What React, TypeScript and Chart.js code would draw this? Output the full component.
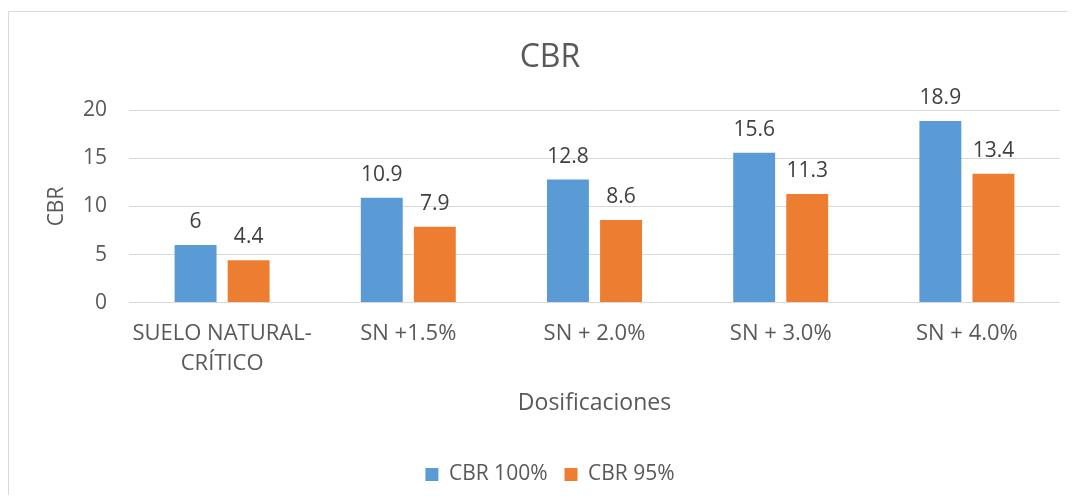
import React, { useEffect, useRef } from "react";
import { Chart, registerables } from "chart.js";

Chart.register(...registerables);

const categories: (string | string[])[] = [
  ["SUELO NATURAL-", "CRÍTICO"],
  "SN +1.5%",
  "SN + 2.0%",
  "SN + 3.0%",
  "SN + 4.0%",
];
const cbr100: number[] = [6, 10.9, 12.8, 15.6, 18.9];
const cbr95: number[] = [4.4, 7.9, 8.6, 11.3, 13.4];
const seriesNames: string[] = ["CBR 100%", "CBR 95%"];
const yTicks: number[] = [0, 5, 10, 15, 20];

const FONT = "'Open Sans', 'DejaVu Sans', sans-serif";
const TEXT = "#595959";

const dataLabels = {
  id: "dataLabels",
  afterDatasetsDraw(chart: any) {
    const ctx = chart.ctx;
    ctx.save();
    ctx.font = `21px ${FONT}`;
    ctx.fillStyle = "#404040";
    ctx.textAlign = "center";
    ctx.textBaseline = "middle";
    chart.data.datasets.forEach((ds: any, i: number) => {
      const meta = chart.getDatasetMeta(i);
      meta.data.forEach((bar: any, j: number) => {
        ctx.fillText(String(ds.data[j]), bar.x, bar.y - 23);
      });
    });
    ctx.restore();
  },
};

const frame = {
  id: "frame",
  beforeDraw(chart: any) {
    const ctx = chart.ctx;
    ctx.save();
    ctx.strokeStyle = "#d9d9d9";
    ctx.lineWidth = 1;
    ctx.beginPath();
    ctx.moveTo(0.5, chart.height);
    ctx.lineTo(0.5, 3.5);
    ctx.lineTo(chart.width, 3.5);
    ctx.stroke();
    ctx.restore();
  },
};

export default function App() {
  const ref = useRef<HTMLCanvasElement>(null);
  useEffect(() => {
    if (!ref.current) return;
    const chart = new Chart(ref.current, {
      type: "bar",
      data: {
        labels: categories,
        datasets: [
          {
            label: seriesNames[0],
            data: cbr100,
            backgroundColor: "#5B9BD5",
            categoryPercentage: 0.57,
            barPercentage: 0.79,
          },
          {
            label: seriesNames[1],
            data: cbr95,
            backgroundColor: "#ED7D31",
            categoryPercentage: 0.57,
            barPercentage: 0.79,
          },
        ],
      },
      options: {
        responsive: false,
        animation: false,
        layout: { padding: { left: 32, right: 15, top: 0, bottom: 0 } },
        plugins: {
          title: {
            display: true,
            text: "CBR",
            color: TEXT,
            font: { family: FONT, size: 32, weight: "normal" },
            padding: { top: 31, bottom: 33 },
          },
          legend: {
            display: true,
            position: "bottom",
            labels: {
              color: TEXT,
              font: { family: FONT, size: 21 },
              boxWidth: 13,
              boxHeight: 13,
              padding: 17,
            },
          },
          tooltip: { enabled: false },
        },
        scales: {
          x: {
            grid: { display: false },
            border: { display: false },
            ticks: {
              color: TEXT,
              font: { family: FONT, size: 22, lineHeight: 1.36 },
              padding: 8,
              maxRotation: 0,
              autoSkip: false,
            },
            title: {
              display: true,
              text: "Dosificaciones",
              color: TEXT,
              font: { family: FONT, size: 23 },
              padding: { top: 3, bottom: 30 },
            },
          },
          y: {
            min: 0,
            max: 20,
            afterBuildTicks: (scale: any) => {
              scale.ticks = yTicks.map((v) => ({ value: v }));
            },
            afterFit: (scale: any) => {
              scale.width = 89;
            },
            grid: { color: "#d9d9d9", lineWidth: 1, drawTicks: false },
            border: { display: false },
            ticks: {
              color: TEXT,
              font: { family: FONT, size: 21 },
              padding: 22,
            },
            title: {
              display: true,
              text: "CBR",
              color: TEXT,
              font: { family: FONT, size: 21 },
              padding: { top: 4, bottom: 0 },
            },
          },
        },
      },
      plugins: [frame, dataLabels],
    });
    return () => chart.destroy();
  }, []);

  return (
    <div style={{ width: 1067, height: 487 }}>
      <canvas
        ref={ref}
        width={1067}
        height={487}
        style={{ display: "block" }}
      />
    </div>
  );
}
